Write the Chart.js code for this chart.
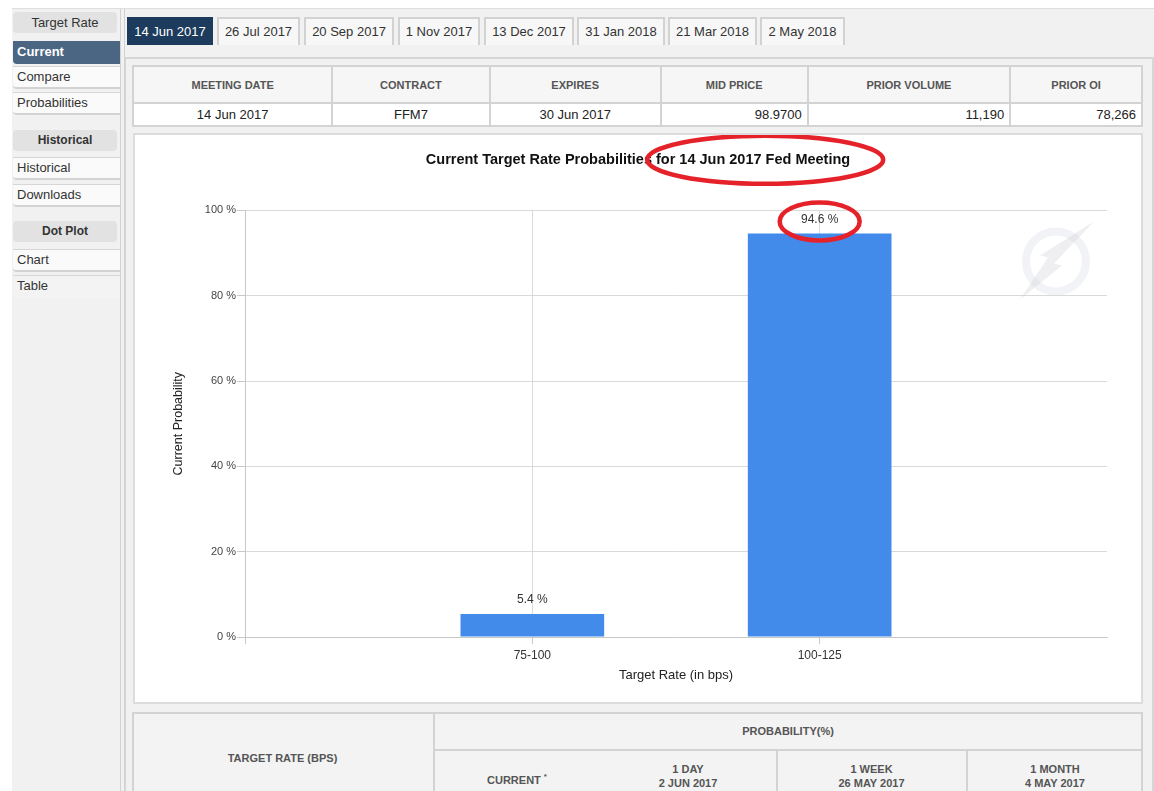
<!DOCTYPE html>
<html>
<head>
<meta charset="utf-8">
<script src="https://cdn.jsdelivr.net/npm/chart.js@4.4.1/dist/chart.umd.min.js"></script>
<style>
  body { margin: 0; background: #fff; font-family: Arial, "Liberation Sans", sans-serif; color: #333; }
  .abs { position: absolute; box-sizing: border-box; }
  #wrap { left: 12px; top: 8px; width: 1142px; height: 783px; background: #f1f1f1; border-top: 1px solid #dedede; }
  .side-head { left: 13px; width: 104px; height: 21px; background: #e2e2e2; border-radius: 4px; text-align: center; line-height: 21px; font-size: 12px; font-weight: bold; color: #333; }
  .side-item { left: 13px; width: 107px; height: 23px; background: #fafafa; border-top: 1px solid #d6d6d6; border-bottom: 2px solid #d3d3d3; border-radius: 0 0 0 4px; padding-left: 4px; line-height: 20px; font-size: 13px; color: #333; }
  .side-item.active { background: #4b6683; color: #fff; font-weight: bold; border-color: #4b6683; }
  .vline { background: #d2d2d2; width: 1px; }
  .tab { top: 17px; height: 28px; border: 2px solid #d2d2d2; border-bottom: none; background: #f7f7f7; font-size: 13px; line-height: 25px; text-align: center; color: #333; }
  .tab.active { background: #1d3b5c; color: #fff; border-color: #1d3b5c; }
  #panel { left: 124px; top: 57px; width: 1030px; height: 740px; border: 2px solid #d6d6d6; background: #f1f1f1; }
  #info { position: absolute; left: 132px; top: 65px; border-collapse: collapse; width: 1011px; }
  #info td { border: 2px solid #d3d3d3; padding: 0 5px; }
  #info tr.h td { height: 35px; background: #f6f6f6; font-size: 11px; font-weight: bold; color: #555; text-align: center; }
  #info tr.d td { height: 21px; background: #fff; font-size: 13px; color: #222; text-align: center; }
  #info tr.d td.num { text-align: right; }
  #chartBox { left: 133px; top: 133px; width: 1010px; height: 571px; background: #fff; border: 2px solid #dcdcdc; }
  #canvasWrap { position: absolute; left: 135px; top: 135px; width: 1006px; height: 567px; }
  #bottom { left: 132px; top: 712px; width: 1011px; height: 100px; background: #f3f3f3; border: 2px solid #d3d3d3; }
  .bl { background: #d3d3d3; }
  .bt { font-size: 11px; font-weight: bold; color: #555; text-align: center; line-height: 14px; }
</style>
</head>
<body>
<div id="wrap" class="abs"></div>

<div class="abs side-head" style="top:12px;font-weight:normal;font-size:13px">Target Rate</div>
<div class="abs side-item active" style="top:41px">Current</div>
<div class="abs side-item" style="top:66px">Compare</div>
<div class="abs side-item" style="top:92px">Probabilities</div>
<div class="abs side-head" style="top:130px">Historical</div>
<div class="abs side-item" style="top:157px">Historical</div>
<div class="abs side-item" style="top:184px">Downloads</div>
<div class="abs side-head" style="top:221px">Dot Plot</div>
<div class="abs side-item" style="top:249px">Chart</div>
<div class="abs side-item" style="top:275px;border-bottom:none;background:#f3f3f3">Table</div>
<div class="abs vline" style="left:120px;top:9px;height:782px"></div>

<div id="panel" class="abs"></div>
<div class="abs vline" style="left:124px;top:9px;height:782px"></div>

<div id="tabs"></div>

<table id="info">
  <tr class="h">
    <td style="width:203px">MEETING DATE</td>
    <td style="width:155px">CONTRACT</td>
    <td style="width:172px">EXPIRES</td>
    <td style="width:145px">MID PRICE</td>
    <td style="width:207px">PRIOR VOLUME</td>
    <td style="width:129px">PRIOR OI</td>
  </tr>
  <tr class="d">
    <td>14 Jun 2017</td>
    <td>FFM7</td>
    <td>30 Jun 2017</td>
    <td class="num">98.9700</td>
    <td class="num">11,190</td>
    <td class="num">78,266</td>
  </tr>
</table>

<div id="chartBox" class="abs"></div>
<div id="canvasWrap"><canvas id="probChart"></canvas></div>

<div id="bottom" class="abs"></div>
<div class="abs bl" style="left:433px;top:712px;width:2px;height:79px"></div>
<div class="abs bl" style="left:433px;top:749px;width:710px;height:2px"></div>
<div class="abs bl" style="left:776px;top:749px;width:2px;height:42px"></div>
<div class="abs bl" style="left:966px;top:749px;width:2px;height:42px"></div>
<div class="abs bt" style="left:132px;top:751px;width:301px">TARGET RATE (BPS)</div>
<div class="abs bt" style="left:433px;top:724px;width:710px">PROBABILITY(%)</div>
<div class="abs bt" style="left:433px;top:770px;width:168px">CURRENT <sup style="font-size:8px">*</sup></div>
<div class="abs bt" style="left:600px;top:762px;width:176px">1 DAY<br>2 JUN 2017</div>
<div class="abs bt" style="left:776px;top:762px;width:191px">1 WEEK<br>26 MAY 2017</div>
<div class="abs bt" style="left:967px;top:762px;width:176px">1 MONTH<br>4 MAY 2017</div>

<script>
const meetingTabs = ['14 Jun 2017', '26 Jul 2017', '20 Sep 2017', '1 Nov 2017', '13 Dec 2017', '31 Jan 2018', '21 Mar 2018', '2 May 2018'];
const tabEdges = [[127, 213], [217, 300], [304, 394], [398, 480], [484, 574], [577, 665], [668, 757], [760, 845]];

const categories = ['75-100', '100-125'];
const probabilities = [5.4, 94.6];
const yTicks = [0, 20, 40, 60, 80, 100];

const chartTitle = 'Current Target Rate Probabilities for 14 Jun 2017 Fed Meeting';
const xTitle = 'Target Rate (in bps)';
const yTitle = 'Current Probability';

const FONT = 'Arial, "Liberation Sans", sans-serif';
const TITLE_SIZE = 14.5;

const tabsEl = document.getElementById('tabs');
meetingTabs.forEach((name, i) => {
    const tab = document.createElement('div');
    tab.className = 'abs tab' + (i === 0 ? ' active' : '');
    tab.style.left = tabEdges[i][0] + 'px';
    tab.style.width = (tabEdges[i][1] - tabEdges[i][0]) + 'px';
    tab.textContent = name;
    tabsEl.appendChild(tab);
});

// empty slots on both ends so the two bars sit on the 1/3 and 2/3 gridlines
const labels = ['', ...categories, ''];
const values = [null, ...probabilities, null];

const titlePad = { top: 16, bottom: 42 };

const watermark = {
    id: 'watermark',
    beforeDatasetsDraw(chart) {
        const { ctx, chartArea } = chart;
        const cx = chartArea.right - 51;
        const cy = chartArea.top + 51;
        ctx.save();
        ctx.strokeStyle = 'rgba(215, 220, 228, 0.35)';
        ctx.lineWidth = 8;
        ctx.beginPath();
        ctx.arc(cx, cy, 30, 0, Math.PI * 2);
        ctx.stroke();
        ctx.fillStyle = 'rgba(210, 210, 215, 0.35)';
        ctx.beginPath();
        ctx.moveTo(cx + 38, cy - 40);
        ctx.lineTo(cx - 2, cy + 2);
        ctx.lineTo(cx + 6, cy + 4);
        ctx.lineTo(cx - 36, cy + 38);
        ctx.lineTo(cx - 8, cy - 4);
        ctx.lineTo(cx - 16, cy - 6);
        ctx.closePath();
        ctx.fill();
        ctx.restore();
    },
};

const barLabels = {
    id: 'barLabels',
    afterDatasetsDraw(chart) {
        const { ctx } = chart;
        const meta = chart.getDatasetMeta(0);
        ctx.save();
        ctx.font = '12px ' + FONT;
        ctx.fillStyle = '#333';
        ctx.textAlign = 'center';
        ctx.textBaseline = 'middle';
        meta.data.forEach((bar, i) => {
            const v = values[i];
            if (v === null) {
                return;
            }
            ctx.fillText(`${v} %`, bar.x, bar.y - 14);
        });
        ctx.restore();
    },
};

// red hand-drawn style circles from the screenshot
const redMarks = {
    id: 'redMarks',
    afterDraw(chart) {
        const { ctx } = chart;
        const tb = chart.titleBlock;
        ctx.save();
        ctx.font = `bold ${TITLE_SIZE}px ${FONT}`;
        const w = ctx.measureText(chartTitle).width;
        const endX = (tb.left + tb.right) / 2 + w / 2;
        const cy = tb.top + titlePad.top + TITLE_SIZE * 1.2 / 2;

        ctx.strokeStyle = '#e5222a';
        ctx.lineWidth = 4.5;
        ctx.beginPath();
        ctx.ellipse(endX - 85, cy, 118, 24, 0, 0, Math.PI * 2);
        ctx.stroke();

        const bar = chart.getDatasetMeta(0).data[2];
        ctx.beginPath();
        ctx.ellipse(bar.x, bar.y - 12, 40, 19, 0, 0, Math.PI * 2);
        ctx.stroke();
        ctx.restore();
    },
};

Chart.defaults.font.family = FONT;

new Chart(document.getElementById('probChart'), {
    type: 'bar',
    data: {
        labels,
        datasets: [
            {
                data: values,
                backgroundColor: '#428bea',
                borderWidth: 0,
                categoryPercentage: 0.5,
                barPercentage: 1,
            },
        ],
    },
    options: {
        responsive: true,
        maintainAspectRatio: false,
        animation: false,
        layout: { padding: 0 },
        plugins: {
            legend: { display: false },
            tooltip: { enabled: false },
            title: {
                display: true,
                text: chartTitle,
                color: '#111',
                font: { size: TITLE_SIZE, weight: 'bold' },
                padding: titlePad,
            },
        },
        scales: {
            x: {
                offset: false,
                grid: {
                    offset: false,
                    color: (c) => (c.index === 0 ? '#c8c8c8' : labels[c.index] ? '#d9d9d9' : 'rgba(0,0,0,0)'),
                    tickColor: (c) => (c.index === 0 || labels[c.index] ? '#c8c8c8' : 'rgba(0,0,0,0)'),
                    tickLength: 7,
                },
                border: { display: true, color: '#c8c8c8' },
                ticks: { color: '#333', font: { size: 12 }, padding: 4, autoSkip: false, maxRotation: 0 },
                title: { display: true, text: xTitle, color: '#222', font: { size: 13 }, padding: { top: 4, bottom: 19 } },
                afterFit: (scale) => { scale.height = 65; },
            },
            y: {
                min: 0,
                max: 100,
                afterBuildTicks: (scale) => { scale.ticks = yTicks.map((v) => ({ value: v })); },
                grid: { color: '#d9d9d9', tickColor: '#c8c8c8', tickLength: 8 },
                border: { display: true, color: '#c8c8c8' },
                ticks: { color: '#444', font: { size: 11 }, padding: 1, callback: (v) => `${v} %` },
                title: { display: true, text: yTitle, color: '#222', font: { size: 12.5 }, padding: { top: 36, bottom: 0 } },
                afterFit: (scale) => { scale.width = 110; },
            },
            // spacer on the right so the title stays centred on the whole panel
            y2: {
                position: 'right',
                grid: { display: false },
                border: { display: false },
                ticks: { display: false },
                afterFit: (scale) => { scale.width = 34; },
            },
        },
    },
    plugins: [watermark, barLabels, redMarks],
});
</script>
</body>
</html>
